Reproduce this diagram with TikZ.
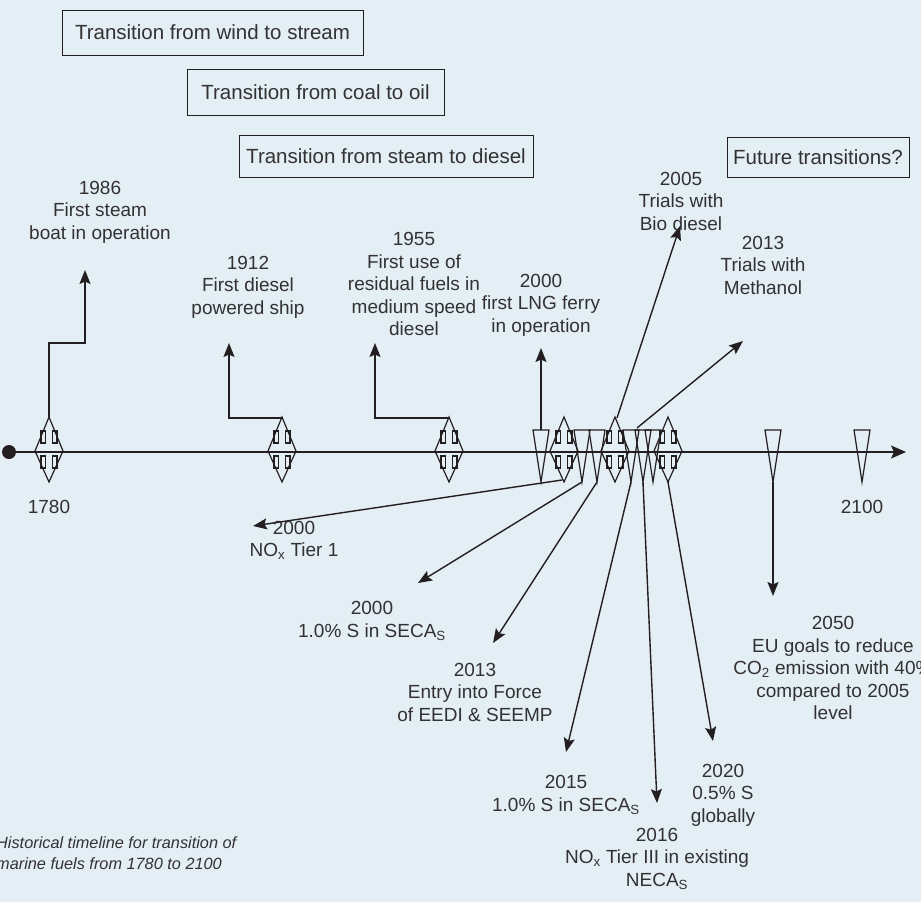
\documentclass[tikz,border=0pt]{standalone}
\usepackage{fontspec}
\setmainfont{Liberation Sans}
\usetikzlibrary{arrows.meta}
\definecolor{bg}{RGB}{228,238,245}
\definecolor{ink}{RGB}{35,31,32}
\definecolor{txt}{RGB}{50,50,50}
\begin{document}
\begin{tikzpicture}[x=1pt,y=-1pt,
  mk/.style={draw=ink,line width=1.2pt,line join=miter},
  conn/.style={draw=ink,line width=1.4pt,-{Stealth[length=14pt,width=11pt,inset=2.5pt]}},
  axisln/.style={draw=ink,line width=1.4pt,-{Stealth[length=15pt,width=13pt,inset=3pt]}},
  lbl/.style={text=txt,font=\fontsize{19}{22.5}\selectfont,align=center,inner sep=0pt},
  tbox/.style={draw=ink,line width=1pt,text=txt,font=\fontsize{20.5}{23}\selectfont,inner sep=0pt},
  captxt/.style={text=txt,font=\fontsize{16.3}{21.5}\selectfont\itshape,align=left,inner sep=0pt},
  dmark/.pic={
    \draw[mk] (0,-35)--(14,-1)--(0,30)--(-14,-1)--cycle;
    \draw[mk] (-8,-21) rectangle (-3.5,-9);
    \draw[mk] (3.5,-21) rectangle (8,-9);
    \draw[mk] (-8,4) rectangle (-3.5,16);
    \draw[mk] (3.5,4) rectangle (8,16);
  },
  tmark/.pic={\draw[mk] (-8,-22)--(8,-22)--(0,30)--cycle;}
]
\fill[bg] (0,0) rectangle (921,902);
\useasboundingbox (0,0) rectangle (921,902);

% transition boxes
\node[tbox,minimum width=301pt,minimum height=45pt] (b1) at (212.5,32.5) {Transition from wind to stream};
\node[tbox,minimum width=257pt,minimum height=46pt] (b2) at (315.5,92) {Transition from coal to oil};
\node[tbox,minimum width=294pt,minimum height=42pt] (b3) at (386,156) {Transition from steam to diesel};
\node[tbox,minimum width=182pt,minimum height=40pt] (b4) at (818,157) {Future transitions?};

% axis
\fill[ink] (9,452) circle (7pt);
\coordinate (start) at (9,452);
\coordinate (end) at (906,452);
\draw[axisln] (start) -- (end);

% markers
\pic at (49,452) {dmark};
\pic at (282,452) {dmark};
\pic at (449,452) {dmark};
\pic at (564,452) {dmark};
\pic at (615,452) {dmark};
\pic at (668,452) {dmark};
\pic at (541,452) {tmark};
\pic at (582,452) {tmark};
\pic at (597,452) {tmark};
\pic at (631,452) {tmark};
\pic at (643,452) {tmark};
\pic at (653,452) {tmark};
\pic at (773,452) {tmark};
\pic at (862,452) {tmark};

% connector points
\coordinate (s1986) at (49,417);
\coordinate (k1986a) at (49,343);
\coordinate (k1986b) at (85,343);
\coordinate (e1986) at (85,270);
\coordinate (s1912) at (282,418);
\coordinate (k1912) at (229,418);
\coordinate (e1912) at (229,343);
\coordinate (s1955) at (449,418);
\coordinate (k1955) at (375,418);
\coordinate (e1955) at (375,343);
\coordinate (sLNG) at (541,430);
\coordinate (eLNG) at (541,348);
\coordinate (sBio) at (617,418);
\coordinate (eBio) at (680,226);
\coordinate (sMeth) at (637,428);
\coordinate (eMeth) at (743,341);
\coordinate (sNox) at (562,480);
\coordinate (eNox) at (253,526);
\coordinate (sSeca) at (582,482);
\coordinate (eSeca) at (418,583);
\coordinate (sEedi) at (597,482);
\coordinate (eEedi) at (493,643);
\coordinate (s2015) at (631,482);
\coordinate (e2015) at (566,752);
\coordinate (s2016) at (643,482);
\coordinate (e2016) at (657,803);
\coordinate (s2020) at (668,482);
\coordinate (e2020) at (713,741);
\coordinate (s2050) at (773,482);
\coordinate (e2050) at (773,596);

\draw[conn] (s1986) -- (k1986a) -- (k1986b) -- (e1986);
\draw[conn] (s1912) -- (k1912) -- (e1912);
\draw[conn] (s1955) -- (k1955) -- (e1955);
\draw[conn] (sLNG) -- (eLNG);
\draw[conn] (sBio) -- (eBio);
\draw[conn] (sMeth) -- (eMeth);
\draw[conn] (sNox) -- (eNox);
\draw[conn] (sSeca) -- (eSeca);
\draw[conn] (sEedi) -- (eEedi);
\draw[conn] (s2015) -- (e2015);
\draw[conn] (s2016) -- (e2016);
\draw[conn] (s2020) -- (e2020);
\draw[conn] (s2050) -- (e2050);

% labels
\node[lbl] (t1986) at (100,212) {1986\\First steam\\boat in operation};
\node[lbl] (t1912) at (248,287) {1912\\First diesel\\powered ship};
\node[lbl] (t1955) at (414,284) {1955\\First use of\\residual fuels in\\medium speed\\diesel};
\node[lbl] (t2000l) at (541,305) {2000\\first LNG ferry\\in operation};
\node[lbl] (t2005) at (681,201) {2005\\Trials with\\Bio diesel};
\node[lbl] (t2013m) at (763,265) {2013\\Trials with\\Methanol};
\node[lbl] (t1780) at (49,507) {1780};
\node[lbl] (t2100) at (862,507) {2100};
\node[lbl] (t2000n) at (294,540) {2000\\NO\textsubscript{x} Tier 1};
\node[lbl] (t2000s) at (372,621) {2000\\1.0\% S in SECA\textsubscript{S}};
\node[lbl] (t2013e) at (475,692) {2013\\Entry into Force\\of EEDI \& SEEMP};
\node[lbl] (t2015) at (566,795) {2015\\1.0\% S in SECA\textsubscript{S}};
\node[lbl] (t2016) at (657,859) {2016\\NO\textsubscript{x} Tier III in existing\\NECA\textsubscript{S}};
\node[lbl] (t2020) at (723,795) {2020\\0.5\% S\\globally};
\node[lbl] (t2050) at (833,668) {2050\\EU goals to reduce\\CO\textsubscript{2} emission with 40\%\\compared to 2005\\level};

\node[captxt,anchor=west] (caption) at (-4,853) {Historical timeline for transition of\\marine fuels from 1780 to 2100};
\end{tikzpicture}
\end{document}
